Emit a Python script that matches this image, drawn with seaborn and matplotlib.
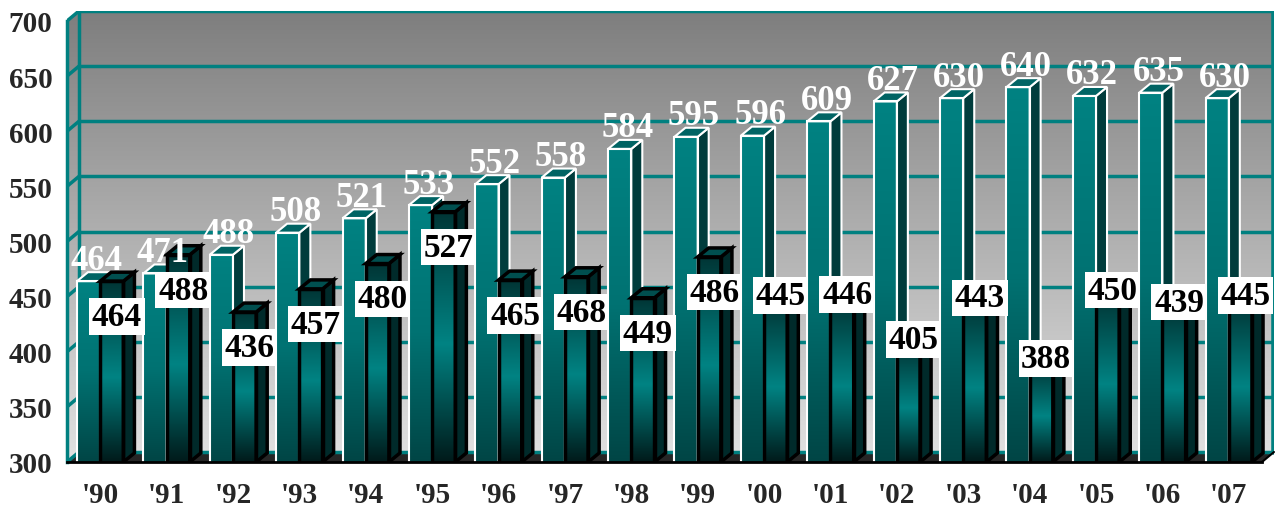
import numpy as np
import matplotlib
matplotlib.use("Agg")
import matplotlib.pyplot as plt
import matplotlib.patches as mpatches
from matplotlib.colors import LinearSegmentedColormap
import pandas as pd
import seaborn as sns

years = ["'90", "'91", "'92", "'93", "'94", "'95", "'96", "'97", "'98",
         "'99", "'00", "'01", "'02", "'03", "'04", "'05", "'06", "'07"]
series_a = [464, 471, 488, 508, 521, 533, 552, 558, 584,
            595, 596, 609, 627, 630, 640, 632, 635, 630]
series_b = [464, 488, 436, 457, 480, 527, 465, 468, 449,
            486, 445, 446, 405, 443, 388, 450, 439, 445]
# where the white label boxes sit relative to the bar top (data units)
label_shift_b = [-32] * 10 + [6] * 8
y_ticks = [300, 350, 400, 450, 500, 550, 600, 650, 700]

df = pd.DataFrame({
    "year": years * 2,
    "value": series_a + series_b,
    "series": ["a"] * len(years) + ["b"] * len(years),
})

sns.set_style("white")
plt.rcParams["font.family"] = ["Liberation Serif", "DejaVu Serif"]
plt.rcParams["font.weight"] = "bold"

TEAL = "#008080"
W, H = 1275, 510
fig = plt.figure(figsize=(W / 100, H / 100), dpi=100)

# pixel geometry of the front plane and back wall
x_left, x_front_right, x_back_right = 67, 1262, 1274
y_base, y_700, y_back_top = 463, 22, 12
sx = (x_front_right - x_left) / 18.0
sy = (y_base - y_700) / 400.0
dxw = (x_back_right - x_front_right) / sx
dyw = (y_700 - y_back_top) / sy
xmax = 17.5 + dxw
ymax = 700 + dyw
# bar depth
dxb = 11 / sx
dyb = 9 / sy

ax = fig.add_axes([x_left / W, (H - y_base) / H, (x_back_right - x_left) / W, (y_base - y_back_top) / H])

sns.barplot(data=df, x="year", y="value", hue="series", palette=[TEAL, "#004040"],
            width=0.7, dodge=True, saturation=1, legend=False, ax=ax)

# background walls with vertical gradient
bg_cmap = LinearSegmentedColormap.from_list("bg", ["#e2e2e2", "#7e7e7e"])
bg = ax.imshow(np.linspace(0, 1, 256).reshape(-1, 1), extent=(-0.5, xmax, 300, ymax),
               origin="lower", aspect="auto", cmap=bg_cmap, zorder=0)
wall = mpatches.Polygon([(-0.5, 300), (-0.5, 700), (-0.5 + dxw, ymax), (xmax, ymax),
                         (xmax, 300 + dyw), (17.5, 300)], closed=True, fc="none", ec="none")
ax.add_patch(wall)
bg.set_clip_path(wall)

floor = mpatches.Polygon([(-0.5, 300), (17.5, 300), (xmax, 300 + dyw), (-0.5 + dxw, 300 + dyw)],
                         closed=True, fc="#262626", ec="none", zorder=1.5)
ax.add_patch(floor)

for v in y_ticks:
    ax.plot([-0.5 + dxw, xmax], [v + dyw, v + dyw], color=TEAL, lw=2.5, zorder=1.6, solid_capstyle="butt")
    ax.plot([-0.5, -0.5 + dxw], [v, v + dyw], color=TEAL, lw=2.5, zorder=1.6)
ax.plot([-0.5 + dxw, -0.5 + dxw], [300 + dyw, ymax], color=TEAL, lw=2.5, zorder=1.6)
ax.plot([xmax, xmax], [300 + dyw, ymax], color=TEAL, lw=4, zorder=1.6)
ax.plot([17.5, xmax], [300, 300 + dyw], color="black", lw=1.5, zorder=1.6, clip_on=False)

# 3D bars: gradient fronts + side and top faces
front_a = LinearSegmentedColormap.from_list("fa", [(0, "#004545"), (0.5, "#007272"), (1, "#008282")])
front_b = LinearSegmentedColormap.from_list("fb", [(0, "#001a1a"), (0.47, "#008383"), (1, "#003535")])
styles = [
    dict(cmap=front_a, edge="white", lw=1.5, side="#003c3c", top="#006464", z=3),
    dict(cmap=front_b, edge="black", lw=2.5, side="#002a2a", top="#004f4f", z=4),
]
grad = np.linspace(0, 1, 256).reshape(-1, 1)
for cont, st in zip(ax.containers, styles):
    for p in cont.patches:
        x0, w, h = p.get_x(), p.get_width(), p.get_height()
        x1 = x0 + w
        ax.imshow(grad, extent=(x0, x1, 300, h), origin="lower", aspect="auto",
                  cmap=st["cmap"], zorder=st["z"])
        p.set_facecolor("none")
        p.set_edgecolor(st["edge"])
        p.set_linewidth(st["lw"])
        p.set_zorder(st["z"] + 0.1)
        side = mpatches.Polygon([(x1, 300), (x1 + dxb, 300 + dyb), (x1 + dxb, h + dyb), (x1, h)],
                                closed=True, fc=st["side"], ec=st["edge"], lw=st["lw"], zorder=st["z"] + 0.05)
        top = mpatches.Polygon([(x0, h), (x0 + dxb, h + dyb), (x1 + dxb, h + dyb), (x1, h)],
                               closed=True, fc=st["top"], ec=st["edge"], lw=st["lw"], zorder=st["z"] + 0.05)
        ax.add_patch(side)
        ax.add_patch(top)

# value labels
for i, (a, b, s) in enumerate(zip(series_a, series_b, label_shift_b)):
    ax.annotate(str(a), (i - 0.06, a), xytext=(0, 9), textcoords="offset points",
                ha="center", va="baseline", color="white", fontsize=25, fontweight="bold", zorder=8)
    ax.text(i + 0.25, b + s, str(b), ha="center", va="center", color="black", fontsize=24,
            fontweight="bold", zorder=8,
            bbox=dict(boxstyle="square,pad=0.08", fc="white", ec="none"))

ax.set_xlim(-0.5, xmax)
ax.set_ylim(300, ymax)

for side_name in ["top", "right"]:
    ax.spines[side_name].set_visible(False)
ax.spines["left"].set_bounds(300, 700)
ax.spines["left"].set_color(TEAL)
ax.spines["left"].set_linewidth(2.5)
ax.spines["bottom"].set_bounds(-0.5, 17.5)
ax.spines["bottom"].set_color("black")
ax.spines["bottom"].set_linewidth(2)
ax.spines["left"].set_zorder(6)
ax.spines["bottom"].set_zorder(6)

ax.set_yticks(y_ticks)
ax.set_yticklabels([str(v) for v in y_ticks])
ax.tick_params(axis="y", length=4.5, width=2.5, color=TEAL, pad=6, labelsize=21)
ax.set_xticks(range(len(years)))
ax.set_xticklabels(years)
ax.set_xticks(np.arange(-0.5, 18, 1), minor=True)
ax.tick_params(axis="x", which="major", length=0, pad=14, labelsize=21)
ax.tick_params(axis="x", which="minor", length=5.5, width=1.5, color="black")
for lab in ax.get_xticklabels() + ax.get_yticklabels():
    lab.set_fontweight("bold")
ax.set_xlabel("")
ax.set_ylabel("")

fig.savefig("out.png", dpi=100)
